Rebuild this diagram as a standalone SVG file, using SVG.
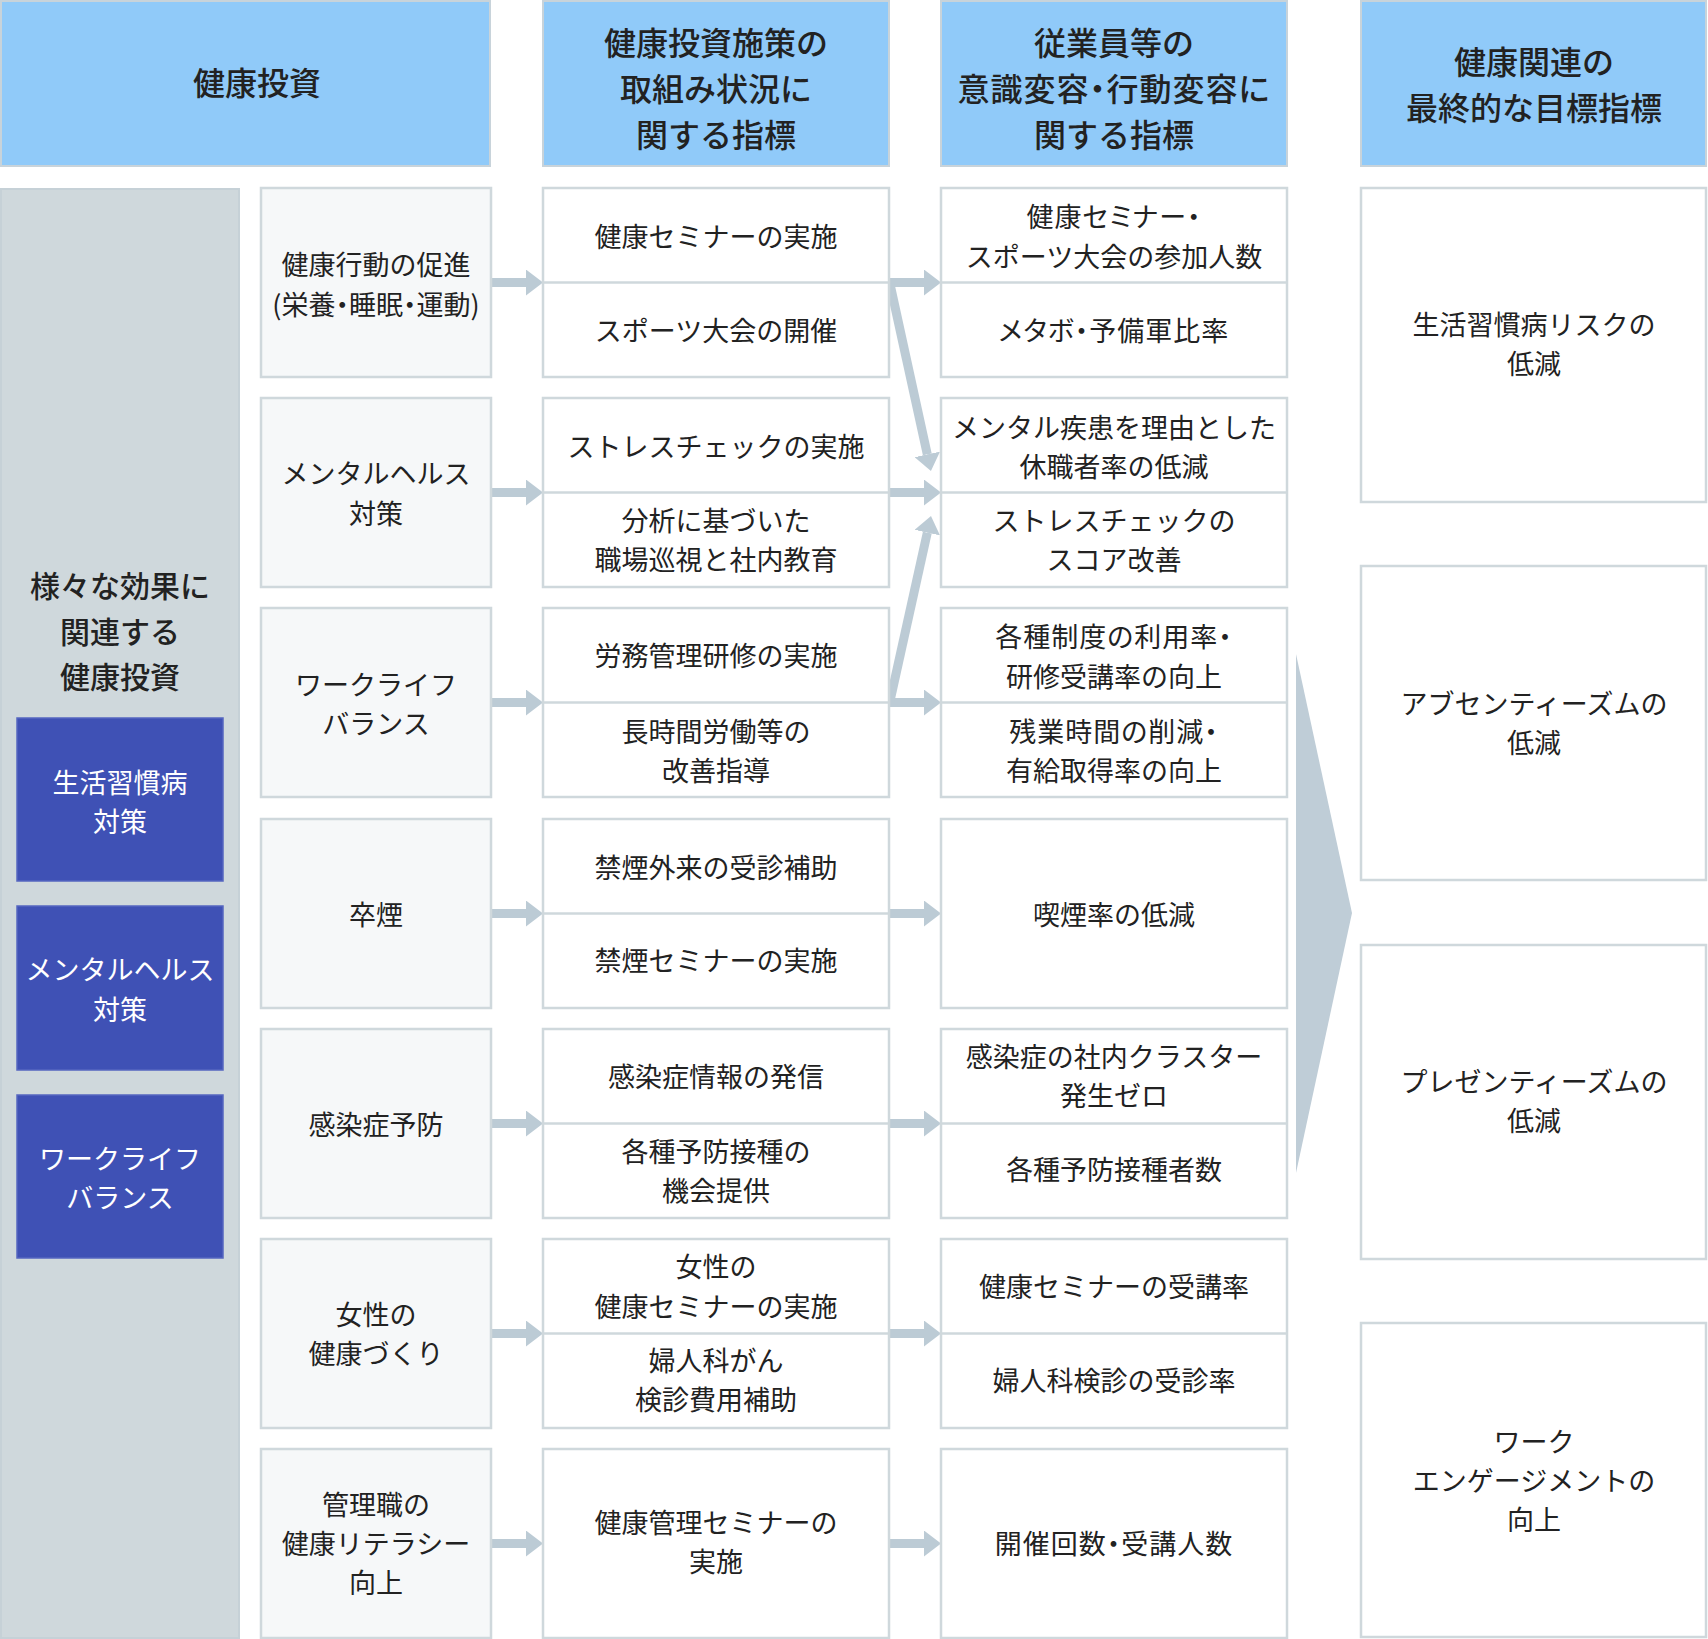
<svg xmlns="http://www.w3.org/2000/svg" width="1708" height="1639" viewBox="0 0 1708 1639">
<style>
text{font-family:"Noto Sans CJK JP","Noto Sans",sans-serif;text-anchor:middle;dominant-baseline:central;fill:#222;}
.hd{fill:#90CAF9;stroke:#C8D3DA;stroke-width:2;}
.ht{font-size:32px;font-weight:500;}
.bx{fill:#fff;stroke:#CFD8DC;stroke-width:2.5;}
.ax{fill:#F6F8F9;stroke:#CFD8DC;stroke-width:2.5;}
.dv{stroke:#CFD8DC;stroke-width:2.5;}
.bt{font-size:27px;}
.pa{font-feature-settings:"palt";letter-spacing:1px;}
.pb{font-feature-settings:"palt";}
.pt{font-size:30px;font-weight:500;}
.bl{fill:#3F51B5;stroke:#5666C0;stroke-width:1.5;}
.wt{font-size:27px;fill:#fff;}
.ar{stroke:#BCCBD5;stroke-width:9;fill:none;marker-end:url(#ah);}
</style>
<defs>
<marker id="ah" markerUnits="userSpaceOnUse" markerWidth="17" markerHeight="26" refX="0" refY="13" orient="auto">
<path d="M0,0 L17,13 L0,26 Z" fill="#BCCBD5"/>
</marker>
</defs>
<rect width="1708" height="1639" fill="#fff"/>

<g id="headers">
<g id="h1"><rect class="hd" x="1" y="1" width="489" height="165"/><text class="ht" x="257" y="81">健康投資</text></g>
<g id="h2"><rect class="hd" x="543" y="1" width="346" height="165"/><text class="ht" x="716" y="41">健康投資施策の</text><text class="ht" x="716" y="87">取組み状況に</text><text class="ht" x="716" y="133">関する指標</text></g>
<g id="h3"><rect class="hd" x="941" y="1" width="346" height="165"/><text class="ht" x="1114" y="41">従業員等の</text><text class="ht pa" x="1114" y="87">意識変容・行動変容に</text><text class="ht" x="1114" y="133">関する指標</text></g>
<g id="h4"><rect class="hd" x="1361" y="1" width="345" height="165"/><text class="ht" x="1534" y="60">健康関連の</text><text class="ht" x="1534" y="106">最終的な目標指標</text></g>
</g>

<g id="panel">
<rect x="1" y="189" width="238" height="1449" fill="#CFD8DC" stroke="#C6D1D7" stroke-width="2"/>
<text class="pt" x="120" y="584">様々な効果に</text>
<text class="pt" x="120" y="630">関連する</text>
<text class="pt" x="120" y="675">健康投資</text>
</g>
<g id="tag1"><rect class="bl" x="17" y="718" width="206" height="163"/><text class="wt" x="120" y="781">生活習慣病</text><text class="wt" x="120" y="820">対策</text></g>
<g id="tag2"><rect class="bl" x="17" y="906" width="206" height="164"/><text class="wt" x="120" y="968">メンタルヘルス</text><text class="wt" x="120" y="1008">対策</text></g>
<g id="tag3"><rect class="bl" x="17" y="1095" width="206" height="163"/><text class="wt" x="120" y="1157">ワークライフ</text><text class="wt" x="120" y="1196">バランス</text></g>

<g id="connectors">
<line class="ar" x1="491" y1="282.5" x2="526" y2="282.5"/>
<line class="ar" x1="491" y1="492.5" x2="526" y2="492.5"/>
<line class="ar" x1="491" y1="702.5" x2="526" y2="702.5"/>
<line class="ar" x1="491" y1="913.5" x2="526" y2="913.5"/>
<line class="ar" x1="491" y1="1123.5" x2="526" y2="1123.5"/>
<line class="ar" x1="491" y1="1333.5" x2="526" y2="1333.5"/>
<line class="ar" x1="491" y1="1543.5" x2="526" y2="1543.5"/>
<line class="ar" x1="889" y1="282.5" x2="924" y2="282.5"/>
<line class="ar" x1="889" y1="492.5" x2="924" y2="492.5"/>
<line class="ar" x1="889" y1="702.5" x2="924" y2="702.5"/>
<line class="ar" x1="889" y1="913.5" x2="924" y2="913.5"/>
<line class="ar" x1="889" y1="1123.5" x2="924" y2="1123.5"/>
<line class="ar" x1="889" y1="1333.5" x2="924" y2="1333.5"/>
<line class="ar" x1="889" y1="1543.5" x2="924" y2="1543.5"/>
<line class="ar" x1="890" y1="284" x2="927.3" y2="454.4"/>
<line class="ar" x1="890" y1="701" x2="927.3" y2="532.6"/>
<polygon points="1296,654 1352,913 1296,1173" fill="#BFCDD7"/>
</g>

<g id="a1"><rect class="ax" x="261" y="188" width="230" height="189"/><text class="bt" x="376" y="263.5">健康行動の促進</text><text class="bt pb" x="376" y="303">(栄養・睡眠・運動)</text></g>
<g id="a2"><rect class="ax" x="261" y="398" width="230" height="189"/><text class="bt" x="376" y="472.5">メンタルヘルス</text><text class="bt" x="376" y="512">対策</text></g>
<g id="a3"><rect class="ax" x="261" y="608" width="230" height="189"/><text class="bt" x="376" y="683">ワークライフ</text><text class="bt" x="376" y="722">バランス</text></g>
<g id="a4"><rect class="ax" x="261" y="819" width="230" height="189"/><text class="bt" x="376" y="913">卒煙</text></g>
<g id="a5"><rect class="ax" x="261" y="1029" width="230" height="189"/><text class="bt" x="376" y="1123">感染症予防</text></g>
<g id="a6"><rect class="ax" x="261" y="1239" width="230" height="189"/><text class="bt" x="376" y="1313">女性の</text><text class="bt" x="376" y="1352.5">健康づくり</text></g>
<g id="a7"><rect class="ax" x="261" y="1449" width="230" height="189"/><text class="bt" x="376" y="1503">管理職の</text><text class="bt" x="376" y="1542">健康リテラシー</text><text class="bt" x="376" y="1581">向上</text></g>

<g id="b1"><rect class="bx" x="543" y="188" width="346" height="189"/><line class="dv" x1="543" y1="282.5" x2="889" y2="282.5"/><text class="bt" x="716" y="235">健康セミナーの実施</text><text class="bt" x="716" y="329">スポーツ大会の開催</text></g>
<g id="b2"><rect class="bx" x="543" y="398" width="346" height="189"/><line class="dv" x1="543" y1="492.5" x2="889" y2="492.5"/><text class="bt" x="716" y="445.5">ストレスチェックの実施</text><text class="bt" x="716" y="519.5">分析に基づいた</text><text class="bt" x="716" y="558.5">職場巡視と社内教育</text></g>
<g id="b3"><rect class="bx" x="543" y="608" width="346" height="189"/><line class="dv" x1="543" y1="702.5" x2="889" y2="702.5"/><text class="bt" x="716" y="654.5">労務管理研修の実施</text><text class="bt" x="716" y="730">長時間労働等の</text><text class="bt" x="716" y="769">改善指導</text></g>
<g id="b4"><rect class="bx" x="543" y="819" width="346" height="189"/><line class="dv" x1="543" y1="913.5" x2="889" y2="913.5"/><text class="bt" x="716" y="866">禁煙外来の受診補助</text><text class="bt" x="716" y="959.5">禁煙セミナーの実施</text></g>
<g id="b5"><rect class="bx" x="543" y="1029" width="346" height="189"/><line class="dv" x1="543" y1="1123.5" x2="889" y2="1123.5"/><text class="bt" x="716" y="1075">感染症情報の発信</text><text class="bt" x="716" y="1150">各種予防接種の</text><text class="bt" x="716" y="1189">機会提供</text></g>
<g id="b6"><rect class="bx" x="543" y="1239" width="346" height="189"/><line class="dv" x1="543" y1="1333.5" x2="889" y2="1333.5"/><text class="bt" x="716" y="1265.5">女性の</text><text class="bt" x="716" y="1305">健康セミナーの実施</text><text class="bt" x="716" y="1359">婦人科がん</text><text class="bt" x="716" y="1398">検診費用補助</text></g>
<g id="b7"><rect class="bx" x="543" y="1449" width="346" height="189"/><text class="bt" x="716" y="1521.5">健康管理セミナーの</text><text class="bt" x="716" y="1560.5">実施</text></g>

<g id="c1"><rect class="bx" x="941" y="188" width="346" height="189"/><line class="dv" x1="941" y1="282.5" x2="1287" y2="282.5"/><text class="bt pa" x="1114" y="215.5">健康セミナー・</text><text class="bt" x="1114" y="255">スポーツ大会の参加人数</text><text class="bt pa" x="1114" y="329">メタボ・予備軍比率</text></g>
<g id="c2"><rect class="bx" x="941" y="398" width="346" height="189"/><line class="dv" x1="941" y1="492.5" x2="1287" y2="492.5"/><text class="bt" x="1114" y="426">メンタル疾患を理由とした</text><text class="bt" x="1114" y="465">休職者率の低減</text><text class="bt" x="1114" y="519.5">ストレスチェックの</text><text class="bt" x="1114" y="558.5">スコア改善</text></g>
<g id="c3"><rect class="bx" x="941" y="608" width="346" height="189"/><line class="dv" x1="941" y1="702.5" x2="1287" y2="702.5"/><text class="bt pa" x="1114" y="635">各種制度の利用率・</text><text class="bt" x="1114" y="675">研修受講率の向上</text><text class="bt pa" x="1114" y="730">残業時間の削減・</text><text class="bt" x="1114" y="769">有給取得率の向上</text></g>
<g id="c4"><rect class="bx" x="941" y="819" width="346" height="189"/><text class="bt" x="1114" y="913">喫煙率の低減</text></g>
<g id="c5"><rect class="bx" x="941" y="1029" width="346" height="189"/><line class="dv" x1="941" y1="1123.5" x2="1287" y2="1123.5"/><text class="bt" x="1114" y="1055.5">感染症の社内クラスター</text><text class="bt" x="1114" y="1094.5">発生ゼロ</text><text class="bt" x="1114" y="1168.5">各種予防接種者数</text></g>
<g id="c6"><rect class="bx" x="941" y="1239" width="346" height="189"/><line class="dv" x1="941" y1="1333.5" x2="1287" y2="1333.5"/><text class="bt" x="1114" y="1285">健康セミナーの受講率</text><text class="bt" x="1114" y="1379">婦人科検診の受診率</text></g>
<g id="c7"><rect class="bx" x="941" y="1449" width="346" height="189"/><text class="bt pa" x="1114" y="1542">開催回数・受講人数</text></g>

<g id="d1"><rect class="bx" x="1361" y="188" width="345" height="314"/><text class="bt" x="1534" y="323.5">生活習慣病リスクの</text><text class="bt" x="1534" y="362.5">低減</text></g>
<g id="d2"><rect class="bx" x="1361" y="566" width="345" height="314"/><text class="bt" x="1534" y="702.5">アブセンティーズムの</text><text class="bt" x="1534" y="741.5">低減</text></g>
<g id="d3"><rect class="bx" x="1361" y="945" width="345" height="314"/><text class="bt" x="1534" y="1080.5">プレゼンティーズムの</text><text class="bt" x="1534" y="1119.5">低減</text></g>
<g id="d4"><rect class="bx" x="1361" y="1323" width="345" height="314"/><text class="bt" x="1534" y="1440">ワーク</text><text class="bt" x="1534" y="1479">エンゲージメントの</text><text class="bt" x="1534" y="1518">向上</text></g>
</svg>
